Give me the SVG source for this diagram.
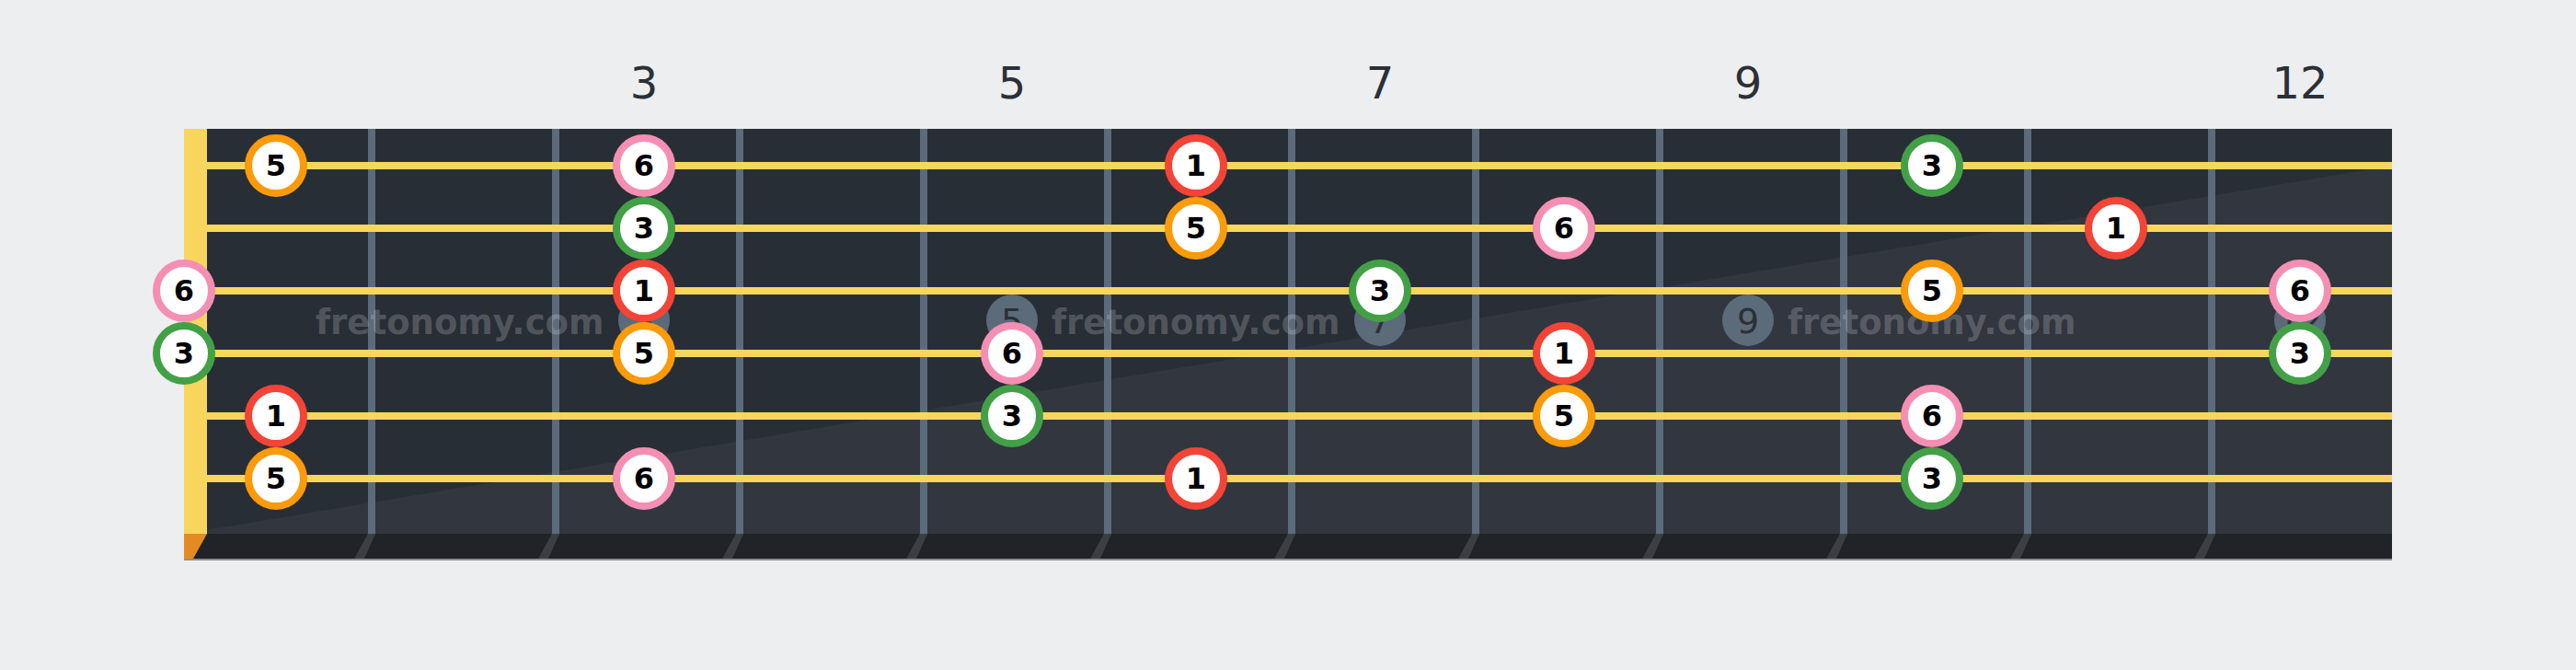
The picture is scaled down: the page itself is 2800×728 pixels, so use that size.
<svg xmlns="http://www.w3.org/2000/svg" width="2800" height="728" viewBox="0 0 2800 728">
<style>
.fretnum{font-family:"DejaVu Sans",sans-serif;font-size:48px;fill:#2b3036;text-anchor:middle}
.wm{font-family:"DejaVu Sans",sans-serif;font-weight:bold;font-size:37px;fill:#ffffff;fill-opacity:0.2}
.mk{fill:#5b6b79}
.mkt{font-family:"DejaVu Sans",sans-serif;font-size:38px;fill:#2b3036;text-anchor:middle}
.fw{fill:#5b6b79}
.fs{fill:#3b3e43}
.str{stroke:#f8d65e;stroke-width:8}
.nc{fill:#ffffff;stroke-width:8}
.nt{font-family:"DejaVu Sans",sans-serif;font-weight:bold;font-size:32px;fill:#000000;text-anchor:middle}
.n1 circle{stroke:#f24437}
.n3 circle{stroke:#43a047}
.n5 circle{stroke:#fb9a0a}
.n6 circle{stroke:#f48fb3}
</style>
<rect width="2800" height="728" fill="#eceef0"/>
<g id="fret-numbers">
<text class="fretnum" x="700" y="107">3</text>
<text class="fretnum" x="1100" y="107">5</text>
<text class="fretnum" x="1500" y="107">7</text>
<text class="fretnum" x="1900" y="107">9</text>
<text class="fretnum" x="2500" y="107">12</text>
</g>
<g id="fretboard">
<rect x="200" y="140" width="2400" height="440" fill="#282e36"/>
<polygon points="200,580 2600,180 2600,580" fill="#31363f"/>
<rect x="200" y="580" width="2400" height="28" fill="#202327"/>
<rect x="200" y="607" width="2400" height="2" fill="#8e9095"/>
<polygon points="200,580 225,580 210,607 200,607" fill="#e38b22"/>
</g>
<g id="frets">
<rect class="fw" x="400" y="140" width="8" height="440"/>
<rect class="fw" x="600" y="140" width="8" height="440"/>
<rect class="fw" x="800" y="140" width="8" height="440"/>
<rect class="fw" x="1000" y="140" width="8" height="440"/>
<rect class="fw" x="1200" y="140" width="8" height="440"/>
<rect class="fw" x="1400" y="140" width="8" height="440"/>
<rect class="fw" x="1600" y="140" width="8" height="440"/>
<rect class="fw" x="1800" y="140" width="8" height="440"/>
<rect class="fw" x="2000" y="140" width="8" height="440"/>
<rect class="fw" x="2200" y="140" width="8" height="440"/>
<rect class="fw" x="2400" y="140" width="8" height="440"/>
<polygon class="fs" points="400,580 408,580 396,607 385,607"/>
<polygon class="fs" points="600,580 608,580 596,607 585,607"/>
<polygon class="fs" points="800,580 808,580 796,607 785,607"/>
<polygon class="fs" points="1000,580 1008,580 996,607 985,607"/>
<polygon class="fs" points="1200,580 1208,580 1196,607 1185,607"/>
<polygon class="fs" points="1400,580 1408,580 1396,607 1385,607"/>
<polygon class="fs" points="1600,580 1608,580 1596,607 1585,607"/>
<polygon class="fs" points="1800,580 1808,580 1796,607 1785,607"/>
<polygon class="fs" points="2000,580 2008,580 1996,607 1985,607"/>
<polygon class="fs" points="2200,580 2208,580 2196,607 2185,607"/>
<polygon class="fs" points="2400,580 2408,580 2396,607 2385,607"/>
</g>
<g id="markers">
<circle class="mk" cx="700" cy="348" r="28"/><text class="mkt" x="700" y="362">3</text>
<circle class="mk" cx="1100" cy="348" r="28"/><text class="mkt" x="1100" y="362">5</text>
<circle class="mk" cx="1500" cy="348" r="28"/><text class="mkt" x="1500" y="362">7</text>
<circle class="mk" cx="1900" cy="348" r="28"/><text class="mkt" x="1900" y="362">9</text>
<circle class="mk" cx="2500" cy="348" r="28"/><text class="mkt" x="2500" y="362">12</text>
</g>
<g id="watermarks">
<text class="wm" x="343" y="363">fretonomy.com</text>
<text class="wm" x="1143" y="363">fretonomy.com</text>
<text class="wm" x="1943" y="363">fretonomy.com</text>
</g>
<rect id="nut" x="200" y="140" width="25" height="440" fill="#f8d65e"/>
<g id="strings">
<line class="str" x1="225" y1="180" x2="2600" y2="180"/>
<line class="str" x1="225" y1="248" x2="2600" y2="248"/>
<line class="str" x1="225" y1="316" x2="2600" y2="316"/>
<line class="str" x1="225" y1="384" x2="2600" y2="384"/>
<line class="str" x1="225" y1="452" x2="2600" y2="452"/>
<line class="str" x1="225" y1="520" x2="2600" y2="520"/>
</g>
<g id="notes">
<g id="s1f1" class="n5"><circle class="nc" cx="300" cy="180" r="30"/><text class="nt" x="300" y="191">5</text></g>
<g id="s1f3" class="n6"><circle class="nc" cx="700" cy="180" r="30"/><text class="nt" x="700" y="191">6</text></g>
<g id="s1f6" class="n1"><circle class="nc" cx="1300" cy="180" r="30"/><text class="nt" x="1300" y="191">1</text></g>
<g id="s1f10" class="n3"><circle class="nc" cx="2100" cy="180" r="30"/><text class="nt" x="2100" y="191">3</text></g>
<g id="s2f3" class="n3"><circle class="nc" cx="700" cy="248" r="30"/><text class="nt" x="700" y="259">3</text></g>
<g id="s2f6" class="n5"><circle class="nc" cx="1300" cy="248" r="30"/><text class="nt" x="1300" y="259">5</text></g>
<g id="s2f8" class="n6"><circle class="nc" cx="1700" cy="248" r="30"/><text class="nt" x="1700" y="259">6</text></g>
<g id="s2f11" class="n1"><circle class="nc" cx="2300" cy="248" r="30"/><text class="nt" x="2300" y="259">1</text></g>
<g id="s3f0" class="n6"><circle class="nc" cx="200" cy="316" r="30"/><text class="nt" x="200" y="327">6</text></g>
<g id="s3f3" class="n1"><circle class="nc" cx="700" cy="316" r="30"/><text class="nt" x="700" y="327">1</text></g>
<g id="s3f7" class="n3"><circle class="nc" cx="1500" cy="316" r="30"/><text class="nt" x="1500" y="327">3</text></g>
<g id="s3f10" class="n5"><circle class="nc" cx="2100" cy="316" r="30"/><text class="nt" x="2100" y="327">5</text></g>
<g id="s3f12" class="n6"><circle class="nc" cx="2500" cy="316" r="30"/><text class="nt" x="2500" y="327">6</text></g>
<g id="s4f0" class="n3"><circle class="nc" cx="200" cy="384" r="30"/><text class="nt" x="200" y="395">3</text></g>
<g id="s4f3" class="n5"><circle class="nc" cx="700" cy="384" r="30"/><text class="nt" x="700" y="395">5</text></g>
<g id="s4f5" class="n6"><circle class="nc" cx="1100" cy="384" r="30"/><text class="nt" x="1100" y="395">6</text></g>
<g id="s4f8" class="n1"><circle class="nc" cx="1700" cy="384" r="30"/><text class="nt" x="1700" y="395">1</text></g>
<g id="s4f12" class="n3"><circle class="nc" cx="2500" cy="384" r="30"/><text class="nt" x="2500" y="395">3</text></g>
<g id="s5f1" class="n1"><circle class="nc" cx="300" cy="452" r="30"/><text class="nt" x="300" y="463">1</text></g>
<g id="s5f5" class="n3"><circle class="nc" cx="1100" cy="452" r="30"/><text class="nt" x="1100" y="463">3</text></g>
<g id="s5f8" class="n5"><circle class="nc" cx="1700" cy="452" r="30"/><text class="nt" x="1700" y="463">5</text></g>
<g id="s5f10" class="n6"><circle class="nc" cx="2100" cy="452" r="30"/><text class="nt" x="2100" y="463">6</text></g>
<g id="s6f1" class="n5"><circle class="nc" cx="300" cy="520" r="30"/><text class="nt" x="300" y="531">5</text></g>
<g id="s6f3" class="n6"><circle class="nc" cx="700" cy="520" r="30"/><text class="nt" x="700" y="531">6</text></g>
<g id="s6f6" class="n1"><circle class="nc" cx="1300" cy="520" r="30"/><text class="nt" x="1300" y="531">1</text></g>
<g id="s6f10" class="n3"><circle class="nc" cx="2100" cy="520" r="30"/><text class="nt" x="2100" y="531">3</text></g>
</g>
</svg>
